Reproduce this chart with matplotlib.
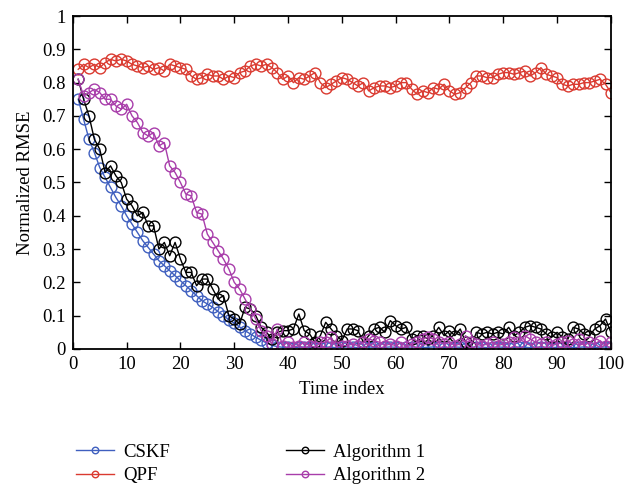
import matplotlib
matplotlib.use("Agg")
import matplotlib.pyplot as plt
import numpy as np

time_index = list(range(1, 101))

cskf = [0.75, 0.69, 0.63, 0.59, 0.545, 0.515, 0.485, 0.455, 0.43, 0.40,
        0.375, 0.35, 0.325, 0.305, 0.285, 0.265, 0.25, 0.235, 0.22, 0.205,
        0.19, 0.175, 0.16, 0.145, 0.135, 0.125, 0.112, 0.10, 0.088, 0.077,
        0.066, 0.055, 0.045, 0.035, 0.026, 0.018, 0.011, 0.007, 0.005, 0.005,
        0.004, 0.005, 0.006, 0.005, 0.004, 0.005, 0.006, 0.005, 0.004, 0.005,
        0.006, 0.005, 0.004, 0.005, 0.006, 0.005, 0.004, 0.005, 0.006, 0.005,
        0.004, 0.005, 0.006, 0.005, 0.004, 0.005, 0.006, 0.005, 0.004, 0.005,
        0.006, 0.005, 0.004, 0.005, 0.006, 0.005, 0.004, 0.005, 0.006, 0.005,
        0.004, 0.005, 0.006, 0.005, 0.004, 0.005, 0.006, 0.005, 0.004, 0.005,
        0.006, 0.005, 0.004, 0.005, 0.006, 0.005, 0.004, 0.005, 0.006, 0.005]

qpf = [0.84, 0.855, 0.845, 0.855, 0.845, 0.86, 0.87, 0.865, 0.87, 0.865,
       0.855, 0.85, 0.845, 0.85, 0.84, 0.845, 0.835, 0.855, 0.85, 0.845,
       0.84, 0.82, 0.81, 0.815, 0.825, 0.82, 0.82, 0.81, 0.82, 0.815,
       0.83, 0.835, 0.85, 0.855, 0.85, 0.855, 0.845, 0.83, 0.81, 0.82,
       0.80, 0.815, 0.81, 0.82, 0.83, 0.80, 0.785, 0.795, 0.805, 0.815,
       0.81, 0.80, 0.79, 0.80, 0.775, 0.785, 0.79, 0.79, 0.785, 0.79,
       0.80, 0.80, 0.78, 0.765, 0.775, 0.77, 0.785, 0.78, 0.795, 0.775,
       0.765, 0.77, 0.785, 0.80, 0.82, 0.82, 0.815, 0.815, 0.825, 0.83,
       0.83, 0.825, 0.83, 0.835, 0.82, 0.83, 0.845, 0.825, 0.82, 0.815,
       0.795, 0.79, 0.795, 0.795, 0.80, 0.80, 0.805, 0.81, 0.795, 0.77]

algorithm1 = [0.81, 0.75, 0.70, 0.63, 0.60, 0.53, 0.55, 0.52, 0.50, 0.45,
              0.43, 0.40, 0.41, 0.37, 0.37, 0.30, 0.32, 0.28, 0.32, 0.27,
              0.23, 0.23, 0.19, 0.21, 0.21, 0.18, 0.15, 0.16, 0.10, 0.09,
              0.075, 0.125, 0.12, 0.10, 0.065, 0.05, 0.03, 0.05, 0.055, 0.055,
              0.06, 0.105, 0.055, 0.045, 0.02, 0.04, 0.08, 0.06, 0.04, 0.025,
              0.06, 0.06, 0.055, 0.02, 0.04, 0.06, 0.065, 0.05, 0.085, 0.07,
              0.06, 0.065, 0.03, 0.04, 0.04, 0.03, 0.04, 0.065, 0.04, 0.055,
              0.04, 0.06, 0.02, 0.005, 0.05, 0.045, 0.05, 0.045, 0.05, 0.045,
              0.065, 0.04, 0.05, 0.065, 0.07, 0.065, 0.06, 0.045, 0.035, 0.05,
              0.035, 0.03, 0.065, 0.06, 0.045, 0.04, 0.06, 0.07, 0.09, 0.05]

algorithm2 = [0.81, 0.76, 0.77, 0.78, 0.77, 0.75, 0.75, 0.73, 0.72, 0.735,
              0.70, 0.68, 0.65, 0.64, 0.65, 0.61, 0.62, 0.55, 0.53, 0.50,
              0.465, 0.46, 0.41, 0.405, 0.345, 0.32, 0.295, 0.27, 0.24, 0.20,
              0.18, 0.15, 0.12, 0.09, 0.055, 0.04, 0.015, 0.06, 0.01, 0.02,
              0.005, 0.01, 0.02, 0.01, 0.005, 0.02, 0.02, 0.035, 0.005, 0.01,
              0.01, 0.015, 0.01, 0.02, 0.03, 0.025, 0.02, 0.01, 0.015, 0.01,
              0.02, 0.005, 0.015, 0.02, 0.03, 0.035, 0.03, 0.02, 0.015, 0.02,
              0.01, 0.015, 0.04, 0.02, 0.015, 0.01, 0.015, 0.02, 0.01, 0.015,
              0.02, 0.035, 0.02, 0.04, 0.03, 0.02, 0.015, 0.02, 0.01, 0.015,
              0.02, 0.025, 0.015, 0.03, 0.01, 0.02, 0.015, 0.025, 0.01, 0.02]

labels = ["CSKF", "QPF", "Algorithm 1", "Algorithm 2"]
colors = ["#3F5FBF", "#DA3A30", "#000000", "#A83DAA"]
x_ticks = list(range(0, 101, 10))
y_ticks = [0, 0.1, 0.2, 0.3, 0.4, 0.5, 0.6, 0.7, 0.8, 0.9, 1]
y_tick_labels = ["0", "0.1", "0.2", "0.3", "0.4", "0.5", "0.6", "0.7", "0.8", "0.9", "1"]

plt.rcParams['font.family'] = ['Liberation Serif', 'DejaVu Serif']
plt.rcParams['font.size'] = 13

fig = plt.figure(figsize=(6.39, 4.86), dpi=100)
ax = fig.add_axes([0.114, 0.282, 0.842, 0.685])

series = [cskf, qpf, algorithm1, algorithm2]
for data, lab, col in zip(series, labels, colors):
    ax.plot(time_index, data, color=col, lw=1.0, marker='o', markersize=7.8,
            markerfacecolor='none', markeredgecolor=col, markeredgewidth=1.0,
            label=lab)

ax.set_xlim(0, 100)
ax.set_ylim(0, 1)
ax.set_xticks(x_ticks)
ax.set_yticks(y_ticks)
ax.set_yticklabels(y_tick_labels)
ax.tick_params(direction='in', top=True, right=True, length=5, width=1, labelsize=13.5, pad=5)
for s in ax.spines.values():
    s.set_linewidth(1.3)
ax.set_xlabel("Time index", fontsize=13.5, labelpad=6)
ax.set_ylabel("Normalized RMSE", fontsize=13.5, labelpad=6)

leg = fig.legend(loc='upper left', bbox_to_anchor=(0.093, 0.122), ncol=2, frameon=False,
                 handlelength=2.0, handletextpad=0.5, columnspacing=6.2,
                 labelspacing=0.35, fontsize=13.5, markerscale=0.6)

fig.savefig("out.png", dpi=100)
